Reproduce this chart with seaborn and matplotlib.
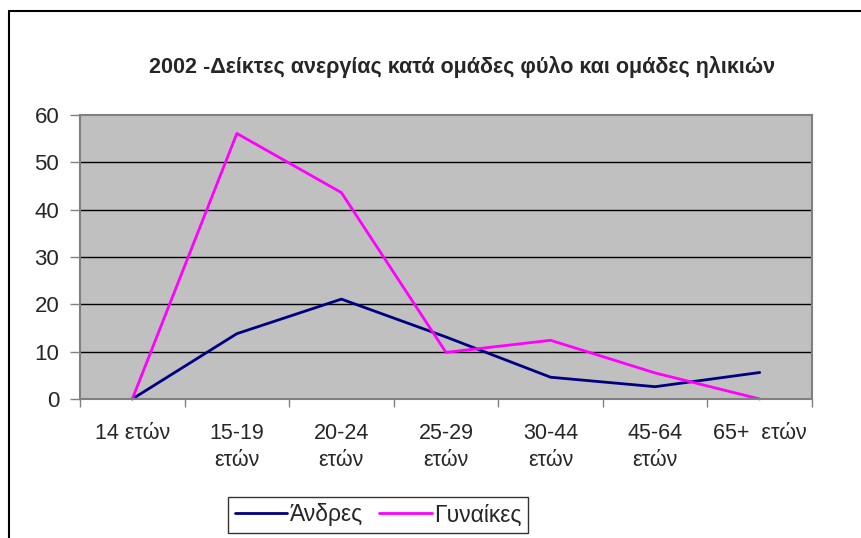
import matplotlib
matplotlib.use("Agg")
import matplotlib.pyplot as plt
from matplotlib.lines import Line2D
import seaborn as sns
import pandas as pd

categories = ["14 ετών", "15-19\nετών", "20-24\nετών", "25-29\nετών",
              "30-44\nετών", "45-64\nετών", "65+  ετών"]
andres = [0, 13.8, 21.1, 13.1, 4.6, 2.6, 5.6]
gynaikes = [0, 56.1, 43.6, 9.85, 12.4, 5.5, 0]
series_names = ["Άνδρες", "Γυναίκες"]
y_ticks = [0, 10, 20, 30, 40, 50, 60]
title = "2002 -Δείκτες ανεργίας κατά ομάδες φύλο και ομάδες ηλικιών"

sns.set_theme(style="white")
plt.rcParams['font.family'] = ['Liberation Sans', 'DejaVu Sans']

df = pd.DataFrame({
    "x": list(range(len(categories))) * 2,
    "value": andres + gynaikes,
    "series": [series_names[0]] * len(andres) + [series_names[1]] * len(gynaikes),
})

W, H = 862, 538
fig = plt.figure(figsize=(W / 100, H / 100), dpi=100)
fig.patch.set_facecolor("white")
ax = fig.add_axes([80 / W, 1 - 399 / H, 732 / W, 284 / H])
ax.set_facecolor("#C0C0C0")

sns.lineplot(data=df, x="x", y="value", hue="series",
             palette=["#000080", "#FF00FF"], linewidth=2.0, ax=ax,
             legend=False, clip_on=False)

ax.set_xlim(-0.5, len(categories) - 0.5)
ax.set_ylim(0, 60)
ax.set_yticks(y_ticks)
ax.set_yticklabels([str(t) for t in y_ticks], fontsize=16)
for t in y_ticks[1:-1]:
    ax.axhline(t, color="black", linewidth=1.0, zorder=1)

ax.set_xticks(range(len(categories)))
ax.set_xticklabels(categories, fontsize=15.5, linespacing=1.4, va="top")
ax.set_xticks([i - 0.5 for i in range(len(categories) + 1)], minor=True)
ax.tick_params(axis="x", which="major", length=0, pad=17)
ax.tick_params(axis="x", which="minor", length=6, width=1, color="#808080", direction="out", bottom=True)
ax.tick_params(axis="y", which="major", length=7, width=1, color="#808080", direction="out", left=True, pad=8)
ax.set_xlabel("")
ax.set_ylabel("")
for s in ax.spines.values():
    s.set_color("#808080")
    s.set_linewidth(1.5)

fig.text(462 / W, 1 - 67 / H, title, ha="center", va="center",
         fontsize=15.5, fontweight="bold")

handles = [Line2D([], [], color="#000080", linewidth=2),
           Line2D([], [], color="#FF00FF", linewidth=2)]
leg = fig.legend(handles, series_names, loc="center",
                 bbox_to_anchor=(378 / W, 1 - 515 / H), ncol=2,
                 fontsize=16.5, frameon=True, fancybox=False,
                 handlelength=2.3, handletextpad=0.1, columnspacing=0.7,
                 borderpad=0.3, borderaxespad=0)
leg.get_frame().set_edgecolor("black")
leg.get_frame().set_linewidth(1.0)

fig.add_artist(Line2D([9 / W, 9 / W], [0, 1 - 11 / H], color="black", linewidth=1.5))
fig.add_artist(Line2D([9 / W, 1], [1 - 11 / H, 1 - 11 / H], color="black", linewidth=1.5))

fig.savefig("out.png", dpi=100)
